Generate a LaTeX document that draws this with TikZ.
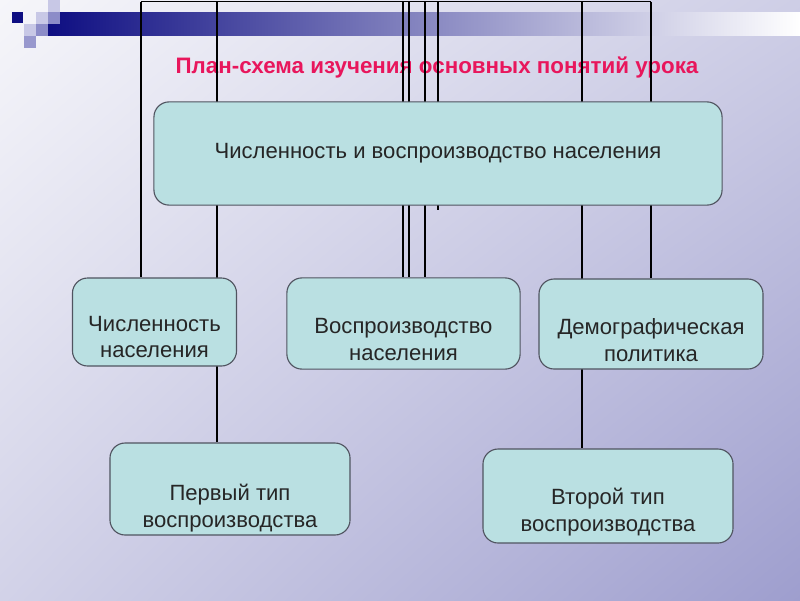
\documentclass[tikz,border=0pt]{standalone}
\usepackage{fontspec}
\setmainfont{Liberation Sans}
\usepackage{tikz}
\usetikzlibrary{calc, shadings}
\definecolor{bgtl}{RGB}{246,246,250}
\definecolor{bgtr}{RGB}{206,206,230}
\definecolor{bgbl}{RGB}{210,210,232}
\definecolor{bgbr}{RGB}{158,158,206}
\definecolor{bandnavy}{RGB}{14,14,130}
\definecolor{titlered}{RGB}{232,22,92}
\definecolor{platefill}{RGB}{186,224,226}
\definecolor{plateedge}{RGB}{80,84,96}
\definecolor{sqlight}{RGB}{200,200,230}
\definecolor{sqmid}{RGB}{140,140,200}
\pgfdeclarelayer{back}
\pgfdeclarelayer{links}
\pgfsetlayers{back,links,main}

\tikzset{
  plate/.style={draw=plateedge, line width=0.8pt, fill=platefill,
    rounded corners=0.38cm, inner sep=0pt},
  platetext/.style={align=center, text=black!85,
    font=\fontsize{15.7}{19}\selectfont},
  link/.style={black, line width=1.3pt},
}

\begin{document}
\begin{tikzpicture}[x=0.025cm, y=-0.025cm]
  \useasboundingbox (0,0) rectangle (800,600);
  \begin{pgfonlayer}{back}
    % background
    \shade[upper left=bgtl, upper right=bgtr, lower left=bgbl, lower right=bgbr]
      (0,0) rectangle (800,600);
    % top band and squares
    \shade[left color=bandnavy, right color=white] (48,12) rectangle (800,35);
    \fill[bandnavy] (12,12) rectangle (23,23);
    \fill[sqlight] (48,0) rectangle (60,12);
    \fill[sqlight] (36,12) rectangle (48,24);
    \fill[sqmid] (48,12) rectangle (60,24);
    \fill[sqlight] (24,24) rectangle (36,36);
    \fill[sqmid] (36,24) rectangle (48,36);
    \fill[sqmid!80!sqlight] (24,36) rectangle (36,48);
    % title
    \node[font=\bfseries\fontsize{15.9}{18}\selectfont, text=titlered] (title) at (437,67)
      {План-схема изучения основных понятий урока};
  \end{pgfonlayer}

  % boxes
  \node[plate, platetext, minimum width=14.2cm, minimum height=2.58cm] (main) at (438,153.5)
    {Численность и воспроизводство населения};
  \node[plate, minimum width=4.1cm, minimum height=2.2cm] (num) at (154.5,322) {};
  \node[platetext] (num-txt) at ($(num)+(0,15)$) {Численность\\населения};
  \node[plate, minimum width=5.83cm, minimum height=2.28cm] (vosp) at (403.5,323.5) {};
  \node[platetext] (vosp-txt) at ($(vosp)+(0,16)$) {Воспроизводство\\населения};
  \node[plate, minimum width=5.6cm, minimum height=2.25cm] (dem) at (651,324) {};
  \node[platetext] (dem-txt) at ($(dem)+(0,16)$) {Демографическая\\политика};
  \node[plate, minimum width=6cm, minimum height=2.3cm] (perv) at (230,489) {};
  \node[platetext] (perv-txt) at ($(perv)+(0,19)$) {Первый тип\\воспроизводства};
  \node[plate, minimum width=6.25cm, minimum height=2.35cm] (vtor) at (608,496) {};
  \node[platetext] (vtor-txt) at ($(vtor)+(0,16)$) {Второй тип\\воспроизводства};

  % links from the top edge
  \begin{pgfonlayer}{links}
    \coordinate (t1) at (141,1.5);
    \coordinate (t2) at (217,1.5);
    \coordinate (t3) at (403,1.5);
    \coordinate (t4) at (409,1.5);
    \coordinate (t5) at (425,1.5);
    \coordinate (t6) at (438,1.5);
    \coordinate (t7) at (582,1.5);
    \coordinate (t8) at (651,1.5);
    \draw[link] (t1) -- (t8);
    \draw[link] (t1) -- (t1 |- num.north);
    \draw[link] (t2) -- (t2 |- perv.north);
    \draw[link] (t3) -- (t3 |- vosp.north);
    \draw[link] (t4) -- (t4 |- vosp.north);
    \draw[link] (t5) -- (t5 |- vosp.north);
    \draw[link] (t6) -- ($(t6 |- main.south)+(0,4)$);
    \draw[link] (t7) -- (t7 |- vtor.north);
    \draw[link] (t8) -- (t8 |- dem.north);
  \end{pgfonlayer}
\end{tikzpicture}
\end{document}
